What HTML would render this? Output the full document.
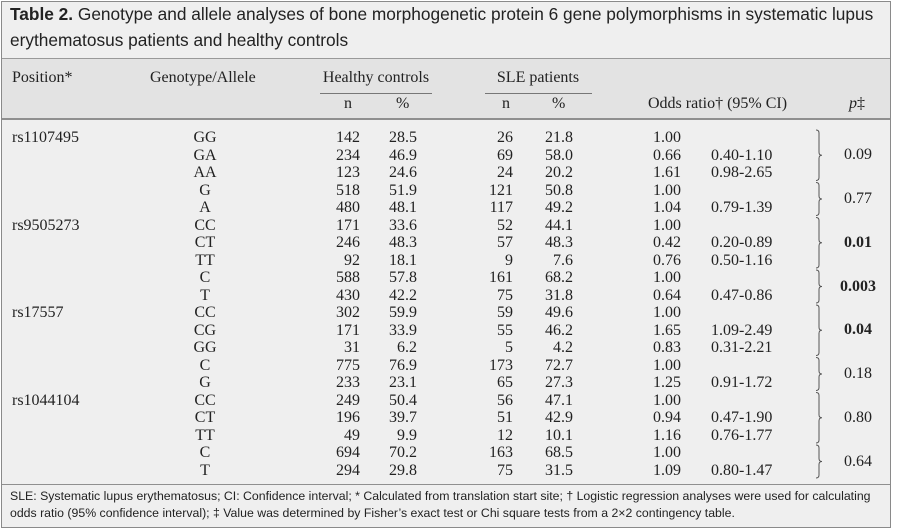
<!DOCTYPE html>
<html><head><meta charset="utf-8"><style>
body{margin:0;background:#fff;}
#w{position:relative;width:900px;height:529px;overflow:hidden;background:#fff;font-family:"Liberation Serif",serif;color:#222;}
#box{position:absolute;left:1px;top:1px;width:888px;height:525px;border:1px solid #8a8a8a;background:#efefef;}
#hd{position:absolute;left:2px;top:58px;width:888px;height:59px;background:#e3e3e3;border-top:1px solid #999;border-bottom:2px solid #8f8f8f;}
.t{position:absolute;white-space:nowrap;font-size:16px;line-height:17.5px;}
.r{text-align:right;}
.c{text-align:center;}
.title{position:absolute;left:10px;font-family:"Liberation Sans",sans-serif;font-size:17.3px;white-space:nowrap;color:#222;}
.fn{position:absolute;left:10px;font-family:"Liberation Sans",sans-serif;font-size:12.3px;white-space:nowrap;color:#222;}
.ul{position:absolute;height:1px;background:#777;}
</style></head><body><div id="w">
<div id="box"></div>
<div id="hd"></div>
<div class="title" style="top:4px"><b>Table 2.</b> Genotype and allele analyses of bone morphogenetic protein 6 gene polymorphisms in systematic lupus</div>
<div class="title" style="top:30px">erythematosus patients and healthy controls</div>
<div class="t" style="left:12px;top:69px">Position*</div>
<div class="t" style="left:150px;top:69px">Genotype/Allele</div>
<div class="t c" style="left:310px;width:132px;top:69px">Healthy controls</div>
<div class="ul" style="left:320px;width:112px;top:93px"></div>
<div class="t c" style="left:475px;width:126px;top:69px">SLE patients</div>
<div class="ul" style="left:485px;width:107px;top:93px"></div>
<div class="t" style="left:344px;top:95px">n</div>
<div class="t" style="left:396px;top:95px">%</div>
<div class="t" style="left:502px;top:95px">n</div>
<div class="t" style="left:552px;top:95px">%</div>
<div class="t" style="left:648px;top:95px">Odds ratio† (95% CI)</div>
<div class="t" style="left:849px;top:95px"><i>p</i>‡</div>
<div id="rows"></div>
<svg style="position:absolute;left:0;top:0" width="900" height="529" id="br"></svg>
<div class="ul" style="left:2px;width:888px;top:484px;background:#8f8f8f"></div>
<div class="fn" style="top:489px">SLE: Systematic lupus erythematosus; CI: Confidence interval; * Calculated from translation start site; † Logistic regression analyses were used for calculating</div>
<div class="fn" style="top:506px">odds ratio (95% confidence interval); ‡ Value was determined by Fisher’s exact test or Chi square tests from a 2×2 contingency table.</div>
<script>
var D=[
["rs1107495","GG","142","28.5","26","21.8","1.00",""],
["","GA","234","46.9","69","58.0","0.66","0.40-1.10"],
["","AA","123","24.6","24","20.2","1.61","0.98-2.65"],
["","G","518","51.9","121","50.8","1.00",""],
["","A","480","48.1","117","49.2","1.04","0.79-1.39"],
["rs9505273","CC","171","33.6","52","44.1","1.00",""],
["","CT","246","48.3","57","48.3","0.42","0.20-0.89"],
["","TT","92","18.1","9","7.6","0.76","0.50-1.16"],
["","C","588","57.8","161","68.2","1.00",""],
["","T","430","42.2","75","31.8","0.64","0.47-0.86"],
["rs17557","CC","302","59.9","59","49.6","1.00",""],
["","CG","171","33.9","55","46.2","1.65","1.09-2.49"],
["","GG","31","6.2","5","4.2","0.83","0.31-2.21"],
["","C","775","76.9","173","72.7","1.00",""],
["","G","233","23.1","65","27.3","1.25","0.91-1.72"],
["rs1044104","CC","249","50.4","56","47.1","1.00",""],
["","CT","196","39.7","51","42.9","0.94","0.47-1.90"],
["","TT","49","9.9","12","10.1","1.16","0.76-1.77"],
["","C","694","70.2","163","68.5","1.00",""],
["","T","294","29.8","75","31.5","1.09","0.80-1.47"]];
var h="",y0=129,d=17.5;
D.forEach(function(r,i){var y=y0+i*d;
h+='<div class="t" style="left:12px;top:'+y+'px">'+r[0]+'</div>';
h+='<div class="t c" style="left:165px;width:80px;top:'+y+'px">'+r[1]+'</div>';
h+='<div class="t r" style="left:300px;width:60px;top:'+y+'px">'+r[2]+'</div>';
h+='<div class="t r" style="left:360px;width:57px;top:'+y+'px">'+r[3]+'</div>';
h+='<div class="t r" style="left:460px;width:53px;top:'+y+'px">'+r[4]+'</div>';
h+='<div class="t r" style="left:520px;width:53px;top:'+y+'px">'+r[5]+'</div>';
h+='<div class="t" style="left:653px;top:'+y+'px">'+r[6]+'</div>';
h+='<div class="t" style="left:711px;top:'+y+'px">'+r[7]+'</div>';});
var G=[[0,3,"0.09",0],[3,2,"0.77",0],[5,3,"0.01",1],[8,2,"0.003",1],[10,3,"0.04",1],[13,2,"0.18",0],[15,3,"0.80",0],[18,2,"0.64",0]];
var s="";
G.forEach(function(g){var t=y0+g[0]*d+1,b=y0+(g[0]+g[1])*d-1,m=(t+b)/2;
s+='<path d="M816 '+t+' q3 0 3 3 L819 '+(m-3)+' q0 3 3 3 q-3 0 -3 3 L819 '+(b-3)+' q0 3 -3 3" fill="none" stroke="#555" stroke-width="1"/>';
h+='<div class="t c" style="left:830px;width:56px;top:'+(m-9)+'px">'+(g[3]?'<b>'+g[2]+'</b>':g[2])+'</div>';});
document.getElementById("rows").innerHTML=h;
document.getElementById("br").innerHTML=s;
</script>
</div></body></html>
